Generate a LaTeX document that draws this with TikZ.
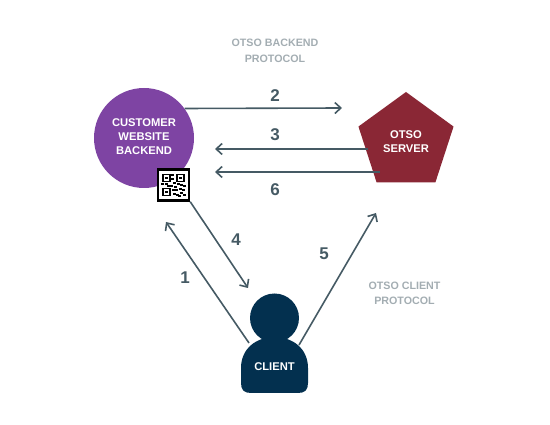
\documentclass[tikz,border=0pt]{standalone}
\usepackage{fontspec}
\setmainfont{Liberation Sans}
\usetikzlibrary{shapes.geometric,arrows.meta}
\definecolor{custpurple}{HTML}{7E44A3}
\definecolor{otsored}{HTML}{8A2735}
\definecolor{clientblue}{HTML}{03304F}
\definecolor{linegray}{HTML}{455A64}
\definecolor{protogray}{HTML}{A3ADB2}
\tikzstyle{actor} = [text=white,font=\bfseries\fontsize{11.2}{14}\selectfont,align=center,inner sep=0pt]
\tikzstyle{flow} = [draw=linegray,line width=1.6pt,-{Straight Barb[length=6pt,width=11pt,line width=1.6pt]}]
\tikzstyle{stepno} = [text=linegray,font=\bfseries\fontsize{17}{18}\selectfont,inner sep=0pt]
\tikzstyle{proto} = [text=protogray,font=\bfseries\fontsize{10.7}{15.5}\selectfont,align=center,inner sep=0pt]

\begin{document}
\begin{tikzpicture}[x=1pt,y=-1pt]
			\useasboundingbox (0,0) rectangle (550,425);
			% arrow ends that touch nothing
			\coordinate (end2) at (342,108);
			\coordinate (end3) at (215,149);
			\coordinate (end6) at (215,172);
			\coordinate (start3) at (368,149);
			\coordinate (start6) at (380,172);
			\coordinate (end1) at (166,222);
			\coordinate (end4) at (248,288);
			\coordinate (end5) at (376,213);
			\coordinate (start1) at (249,343);
			\coordinate (start5) at (299,345);
			\node[circle,fill=custpurple,minimum size=100pt,inner sep=0pt] (customer) at (144,138) {};
			\node[actor] (customerlabel) at (144,136.5) {CUSTOMER\\WEBSITE\\BACKEND};
			\node[regular polygon,regular polygon sides=5,fill=otsored,minimum size=100pt,inner sep=0pt,outer sep=0pt] (server) at (406,142) {};
			\node[actor] (serverlabel) at (406,142) {OTSO\\SERVER};
			\draw[flow] (customer.36) -- (end2);
			\draw[flow] (start3) -- (end3);
			\draw[flow] (start6) -- (end6);
			\node[draw=black,line width=2.4pt,fill=white,minimum size=31pt,inner sep=0pt] (qr) at (173.5,185) {};
			\draw[flow] (qr.south east) -- (end4);
			\draw[flow] (start1) -- (end1);
			\draw[flow] (start5) -- (end5);
			% client: head and body
			\node[circle,fill=clientblue,minimum size=49pt,inner sep=0pt] (head) at (274.5,318) {};
			\fill[clientblue] (241,383) -- (241,368) .. controls (241,348) and (257,337) .. (274.5,337) .. controls (292,337) and (308,348) .. (308,368) -- (308,383) .. controls (308,390) and (305,393) .. (298,393) -- (251,393) .. controls (244,393) and (241,390) .. (241,383) -- cycle;
			\node[actor] (client) at (274.5,367) {CLIENT};
			% qr pattern
			\begin{scope}[shift={(qr.center)},x=1pt,y=-1pt]
				\foreach \cx/\cy in {-7/-7,7/-7,-7/7} {
					\draw[black,line width=1.3pt] (\cx-3.5,\cy-3.5) rectangle (\cx+3.5,\cy+3.5);
					\fill[black] (\cx-1.2,\cy-1.2) rectangle (\cx+1.2,\cy+1.2);
				}
				\foreach \cx/\cy in {-1/-10,-1/-6,1/-2,-11/-1,-7/-1,-5/1,-2/1,2/2,5/-1,8/0,11/1,0/5,3/5,7/4,10/5,1/9,4/10,8/8,11/10,6/11} {
					\fill[black] (\cx-1.1,\cy-1.1) rectangle (\cx+1.1,\cy+1.1);
				}
			\end{scope}
			\node[stepno] (n2) at (275,96) {2};
			\node[stepno] (n3) at (275,135) {3};
			\node[stepno] (n6) at (275,190) {6};
			\node[stepno] (n4) at (236,240) {4};
			\node[stepno] (n1) at (185,278) {1};
			\node[stepno] (n5) at (324,254) {5};
			\node[proto] (backend) at (275,51) {OTSO BACKEND\\PROTOCOL};
			\node[proto] (clientproto) at (404.5,293.5) {OTSO CLIENT\\PROTOCOL};
		\end{tikzpicture}
\end{document}
